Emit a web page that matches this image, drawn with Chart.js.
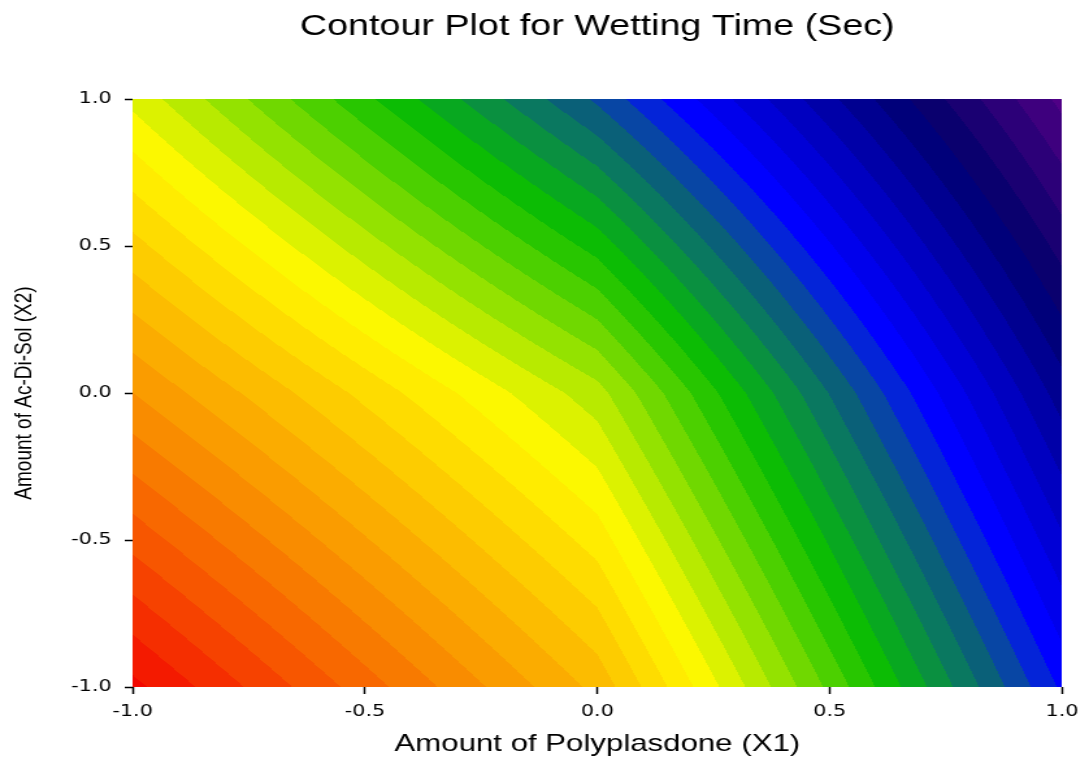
<!DOCTYPE html>
<html>
<head>
<meta charset="utf-8">
<title>Contour Plot for Wetting Time (Sec)</title>
<script src="https://cdn.jsdelivr.net/npm/chart.js@4.4.1/dist/chart.umd.min.js"></script>
<style>
  html, body { margin: 0; padding: 0; background: #ffffff; overflow: hidden; }
  /* the plot is laid out at 838 px and widened to the full 1089 px page */
  #frame { width: 838px; height: 758px; transform: scaleX(1.29952); transform-origin: 0 0; }
</style>
</head>
<body>
<div id="frame"><canvas id="chart" width="838" height="758"></canvas></div>
<script>
// Coded factor levels of the 3 x 3 design
const polyplasdoneLevels = [-1, 0, 1];   // X1
const acDiSolLevels = [-1, 0, 1];        // X2

// Wetting time (sec) at the design points, one array per X2 level, ordered by X1
const wettingTimeX2Low  = [90.6, 71.4, 35.6];   // X2 = -1
const wettingTimeX2Mid  = [76.0, 58.8, 25.0];   // X2 =  0
const wettingTimeX2High = [61.4, 39.6, 13.4];   // X2 = +1

// Contour levels (sec) and the fill colour of each band, lowest band first
const contourLevels = [14, 16, 18, 20, 22, 24, 26, 28, 30, 32, 34, 36, 38, 40, 42, 44, 46, 48, 50,
                       52, 54, 56, 58, 60, 62, 64, 66, 68, 70, 72, 74, 76, 78, 80, 82, 84, 86, 88, 90];
const bandColors = ['#500086', '#3e007e', '#2c0078', '#1a0072', '#0a006e', '#00007a', '#000090', '#0000a8',
                    '#0000c0', '#0000d6', '#0000ec', '#0000ff', '#0424d8', '#0846a4', '#0a6078', '#0a7860',
                    '#0a9040', '#08a820', '#0cbc04', '#28c600', '#4cd000', '#70d800', '#94e200', '#b8ea00',
                    '#dcf200', '#fcf800', '#ffec00', '#fedc00', '#fdcc00', '#fcbc00', '#fbac00', '#fa9c00',
                    '#f98c00', '#f87a00', '#f86800', '#f75600', '#f64200', '#f52e00', '#f41a00', '#f20800'];

// Axis ticks
const tickValues = [-1, -0.5, 0, 0.5, 1];
const tickLabels = ['-1.0', '-0.5', '0.0', '0.5', '1.0'];

const wettingGrid = [wettingTimeX2Low, wettingTimeX2Mid, wettingTimeX2High];
const designPoints = [];
acDiSolLevels.forEach((yv, r) => polyplasdoneLevels.forEach((xv, c) => designPoints.push({ x: xv, y: yv, v: wettingGrid[r][c] })));

function hexToRgb(hex) {
  const n = parseInt(hex.slice(1), 16);
  return [(n >> 16) & 255, (n >> 8) & 255, n & 255];
}

function cellIndex(levels, v) {
  let k = 0;
  while (k < levels.length - 2 && v > levels[k + 1]) k++;
  return k;
}

// Fills the plot area with the banded response surface, pixel by pixel through the scales
const contourFill = {
  id: 'contourFill',
  beforeDatasetsDraw(chart) {
    const { ctx, chartArea, scales } = chart;
    const xs = scales.x, ys = scales.y;
    const left = Math.round(chartArea.left), top = Math.round(chartArea.top);
    const w = Math.round(chartArea.right) - left, h = Math.round(chartArea.bottom) - top;
    const img = ctx.createImageData(w, h);
    const rgb = bandColors.map(hexToRgb);
    for (let j = 0; j < h; j++) {
      const yv = ys.getValueForPixel(top + j + 0.5);
      const r = cellIndex(acDiSolLevels, yv);
      const ty = Math.min(1, Math.max(0, (yv - acDiSolLevels[r]) / (acDiSolLevels[r + 1] - acDiSolLevels[r])));
      for (let i = 0; i < w; i++) {
        const xv = xs.getValueForPixel(left + i + 0.5);
        const c = cellIndex(polyplasdoneLevels, xv);
        const tx = Math.min(1, Math.max(0, (xv - polyplasdoneLevels[c]) / (polyplasdoneLevels[c + 1] - polyplasdoneLevels[c])));
        const z = wettingGrid[r][c] * (1 - tx) * (1 - ty) + wettingGrid[r][c + 1] * tx * (1 - ty)
                + wettingGrid[r + 1][c] * (1 - tx) * ty + wettingGrid[r + 1][c + 1] * tx * ty;
        let band = 0;
        while (band < contourLevels.length && z >= contourLevels[band]) band++;
        const col = rgb[band];
        const k = (j * w + i) * 4;
        img.data[k] = col[0];
        img.data[k + 1] = col[1];
        img.data[k + 2] = col[2];
        img.data[k + 3] = 255;
      }
    }
    ctx.putImageData(img, left, top);
  }
};

const textFont = 'Liberation Sans';
const tickFont = 'DejaVu Sans';

new Chart(document.getElementById('chart'), {
  type: 'scatter',
  data: {
    datasets: [{ data: designPoints, pointRadius: 0, pointHoverRadius: 0, showLine: false }]
  },
  plugins: [contourFill],
  options: {
    responsive: false,
    animation: false,
    devicePixelRatio: 1,
    events: [],
    layout: { padding: { top: 0, right: 14, bottom: 0, left: 0 } },
    plugins: {
      legend: { display: false },
      tooltip: { enabled: false },
      title: {
        display: true,
        text: 'Contour Plot for Wetting Time (Sec)',
        position: 'top',
        fullSize: false,
        color: '#000',
        font: { family: textFont, size: 29, weight: 'normal' },
        padding: { top: 10, bottom: 54.2 }
      }
    },
    scales: {
      x: {
        type: 'linear',
        position: 'bottom',
        min: -1,
        max: 1,
        afterBuildTicks: s => { s.ticks = tickValues.map(v => ({ value: v })); },
        afterFit: s => { s.height = 71; },
        ticks: {
          callback: (v, i) => tickLabels[i],
          color: '#000',
          font: { family: tickFont, size: 16 },
          padding: 8,
          maxRotation: 0,
          autoSkip: false
        },
        grid: { display: true, drawOnChartArea: false, drawTicks: true, tickLength: 7, tickColor: '#000', tickWidth: 1.5 },
        border: { display: false },
        title: {
          display: true,
          text: 'Amount of Polyplasdone (X1)',
          color: '#000',
          font: { family: textFont, size: 24 },
          padding: { top: 0, bottom: -1 }
        }
      },
      y: {
        type: 'linear',
        position: 'left',
        min: -1,
        max: 1,
        afterBuildTicks: s => { s.ticks = tickValues.map(v => ({ value: v })); },
        afterFit: s => { s.width = 102; },
        ticks: {
          callback: (v, i) => tickLabels[i],
          color: '#000',
          font: { family: tickFont, size: 16 },
          padding: 10,
          autoSkip: false
        },
        grid: { display: true, drawOnChartArea: false, drawTicks: true, tickLength: 6, tickColor: '#000', tickWidth: 1.5 },
        border: { display: false },
        title: {
          display: true,
          text: 'Amount of Ac-Di-Sol (X2)',
          color: '#000',
          font: { family: textFont, size: 19 },
          padding: { top: 7.8, bottom: 0 }
        }
      }
    }
  }
});
</script>
</body>
</html>
